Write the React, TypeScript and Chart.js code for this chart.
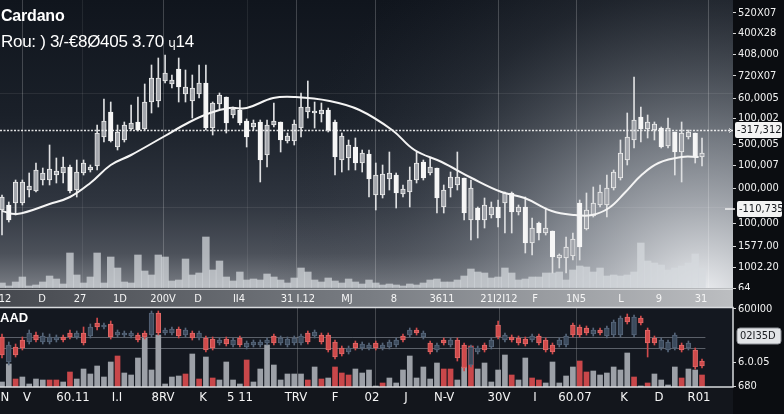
import React, { useEffect, useRef } from 'react';
import { Chart, registerables } from 'chart.js';

Chart.register(...registerables);

const FONT = "'Liberation Sans Narrow','DejaVu Sans Condensed','Liberation Sans',Arial,sans-serif";

// ---------- main panel (price) ----------
const mainOpen = [91,68,106,106,102,118,115,119,117,121,97,116,125,121,155,167,147,156,163,165,158,186,210,210,215,208,201,201,200,205,160,185,193,165,179,165,151,165,128,163,167,148,152,164,181,181,177,178,158,131,152,143,125,135,109,113,114,115,95,99,108,125,110,121,90,98,111,111,75,100,68,83,81,70,95,76,81,45,60,55,60,31,33,41,49,41,78,85,96,100,116,135,151,168,159,166,164,141,160,136,155,156,131,135];
const mainHigh = [93,86,108,108,115,125,120,143,130,131,123,128,128,123,163,189,186,163,166,183,191,204,223,230,233,213,230,218,213,223,223,186,195,191,181,188,169,168,168,168,185,166,155,168,195,207,186,185,180,168,155,148,150,138,138,125,123,136,115,103,121,136,128,130,120,103,116,136,110,108,81,90,86,88,96,96,83,91,70,66,80,57,34,51,55,88,95,101,103,113,118,148,175,211,181,173,166,161,170,156,166,158,155,150];
const mainLow = [53,66,73,83,91,96,103,103,105,105,95,91,113,116,118,146,146,138,146,158,157,158,175,181,205,200,186,186,170,190,158,153,178,155,170,163,141,158,106,121,161,136,145,143,151,170,160,166,156,113,116,118,118,116,91,78,90,98,80,91,81,105,108,113,75,75,91,98,68,48,50,60,70,61,55,55,73,35,33,48,53,15,20,15,28,28,58,71,81,71,98,108,123,140,146,150,148,140,140,113,106,149,125,122];
const mainClose = [78,83,85,85,98,97,108,108,113,115,121,98,115,118,122,151,176,141,148,159,166,159,186,187,207,204,219,194,187,194,205,160,184,191,173,178,167,161,166,133,163,166,147,147,160,176,175,174,178,166,128,130,141,125,134,93,93,109,113,94,96,108,126,115,120,81,100,103,110,68,80,68,73,81,85,95,76,81,45,65,55,57,30,30,32,85,59,72,83,83,100,110,128,148,171,159,158,160,142,156,136,151,155,131];
const mainVolume = [5,2,6,11,2,3,6,12,9,4,35,13,5,11,35,5,31,20,6,5,33,17,13,33,31,7,8,29,13,15,51,18,27,11,7,16,8,9,8,14,11,8,5,10,20,16,8,6,10,7,5,9,6,4,8,5,3,4,3,2,4,3,5,8,9,6,6,8,12,19,16,15,10,11,20,15,8,9,11,11,15,15,16,8,18,22,21,16,20,12,13,12,13,16,45,27,25,23,18,20,22,25,34,20];

// moving-average line sample points (x = candle index)
const maX = [0,2.2,7,10,13,16,19,23.7,27.6,30.6,33.5,36,39.9,43.2,48.2,52.6,57.4,60.7,64.7,69.1,73.5,76.9,80.9,84.3,86.8,89.3,91.6,94.1,96.6,100,102.5];
const maY = [77,74,84,91,105,123,133,151,166,175,180,180,190,191,187,178,158,138,126,110,96,90,77,73,73,80,95,113,125,131,131];

const priceTickValues = [0,21,42,65,100,123,144,170,190,212,234,255,275];
const priceTickLabels = ['64','1002.20','1577.00','100,000','000,000','100,007','500,005','100,002','60,0005','720X07','408,000','400X28','520X07'];
const priceTagValues = [158,79];
const priceTagLabels = ['-317,312','-110,735'];

const topTickPos = [0.44,5.89,11.48,17.36,23.69,28.84,34.87,43.55,50.77,57.68,64.74,73.13,78.43,84.46,91.08,96.67,102.86];
const topTickLabels = ['12','D','27','1D','200V','D','II4','31 I.12','MJ','8','3611','21I2I12','F','1N5','L','9','31'];

const mainGridStrong = [2.94,23.69,43.26,54.89,72.98,84.46,103.88];
const mainGridFaint = [11.77,36.05];
const mainGridH = [195,81];

// ---------- lower panel ----------
const lowOpen = [50,25,40,47,45,52,45,45,47,50,54,50,54,51,64,60,63,52,52,51,52,54,52,74,54,54,58,52,54,49,49,48,44,48,42,49,40,42,42,44,51,44,42,44,44,54,51,52,52,45,39,35,44,39,39,44,39,40,42,51,52,57,50,44,37,47,42,47,42,22,35,42,40,62,47,50,49,48,47,51,47,42,42,42,62,60,59,53,57,51,52,52,70,52,69,57,49,39,37,39,42,39,37,26];
const lowClose = [32,42,32,39,54,47,51,50,50,47,50,54,44,60,60,62,50,55,54,54,47,50,74,54,57,58,51,57,49,54,37,39,47,43,47,42,44,45,45,47,44,49,48,49,51,45,55,45,37,30,33,39,39,43,42,39,42,45,47,47,57,54,54,35,42,44,47,29,19,40,39,37,47,50,52,47,44,43,51,44,37,35,47,51,52,52,54,57,54,59,65,69,65,70,64,44,44,47,45,52,37,44,20,21];
const lowHigh = [53,45,43,50,57,55,54,53,52,52,57,56,60,63,69,64,66,57,56,56,54,56,76,76,59,60,60,59,56,56,51,50,49,50,49,51,46,47,47,49,53,51,50,51,53,56,57,54,54,47,41,41,46,45,44,46,44,47,49,53,59,59,56,46,44,49,49,49,44,42,41,44,49,66,54,52,51,50,53,53,49,44,49,53,64,62,61,59,59,61,67,71,73,72,71,59,51,49,47,54,44,46,39,28];
const lowLow = [29,22,30,37,43,45,43,43,45,45,48,48,42,49,57,58,48,50,50,49,45,48,50,52,52,52,49,50,47,47,35,37,42,41,40,40,38,40,40,42,42,42,40,42,42,43,49,43,35,28,31,33,37,37,37,37,37,38,40,45,50,52,48,33,35,42,40,26,16,20,33,35,38,48,45,45,42,41,45,42,35,33,40,40,50,50,52,51,52,49,50,50,63,50,62,30,42,37,35,37,35,37,18,19];
const lowVolume = [5,23,8,10,3,8,7,7,7,5,15,8,18,13,21,10,25,31,14,12,29,49,17,52,3,10,11,13,33,8,30,9,7,25,7,3,27,5,18,42,22,7,13,13,13,7,20,8,9,20,14,12,18,14,17,1,4,9,4,17,31,9,20,8,24,18,18,7,20,41,18,24,5,17,32,12,7,29,9,7,4,25,4,11,20,26,15,16,12,14,20,17,34,10,1,4,13,7,2,20,9,18,17,12];
const lowVolumeSide = ['g','g','r','g','g','g','g','r','r','g','r','g','g','g','g','g','g','r','g','g','g','g','g','g','g','g','g','r','g','r','g','r','g','g','g','g','r','g','g','g','g','g','g','g','g','r','g','r','g','r','r','r','g','g','g','g','r','g','g','g','g','g','g','g','g','r','r','g','g','r','g','g','g','g','g','r','g','g','r','r','g','g','g','g','g','r','r','g','g','g','g','g','g','r','g','r','g','g','g','g','r','g','g','r'];

const lowTickValues = [1,25,78];
const lowTickLabels = ['680','6.0.05','600I00'];
const lowTagValue = 51;
const lowTagLabel = '02I35D';
const lowLines = [50,39];
const lowGridX = [43.4,54.89,73.13,84.46];

const bottomTickPos = [0.44,3.68,10.45,16.92,23.69,29.58,35.02,43.26,49.0,54.44,59.45,65.04,73.13,78.43,84.31,91.52,96.67,102.56];
const bottomTickLabels = ['N','V','60.11','I.I','8RV','K','5 11','TRV','F','02','J','N-V','30V','I','60.07','K','D','R01'];

const X_MIN = -0.294;
const X_MAX = 107.56;

function roundRect(ctx: CanvasRenderingContext2D, x: number, y: number, w: number, h: number, r: number) {
  ctx.beginPath();
  ctx.moveTo(x + r, y);
  ctx.lineTo(x + w - r, y);
  ctx.quadraticCurveTo(x + w, y, x + w, y + r);
  ctx.lineTo(x + w, y + h - r);
  ctx.quadraticCurveTo(x + w, y + h, x + w - r, y + h);
  ctx.lineTo(x + r, y + h);
  ctx.quadraticCurveTo(x, y + h, x, y + h - r);
  ctx.lineTo(x, y + r);
  ctx.quadraticCurveTo(x, y, x + r, y);
  ctx.closePath();
}

function plotBox(chart: any) {
  const { x, y } = chart.scales;
  return { left: x.left, right: x.right, top: y.top, bottom: y.bottom };
}

function drawXLabels(chart: any, pos: number[], labels: string[], size: number, dy: number) {
  const { ctx, scales } = chart;
  const { bottom } = plotBox(chart);
  ctx.save();
  ctx.fillStyle = '#f5f5f5';
  ctx.font = `${size}px ${FONT}`;
  ctx.textAlign = 'center';
  ctx.textBaseline = 'middle';
  pos.forEach((v, k) => {
    ctx.fillText(labels[k], scales.x.getPixelForValue(v), bottom + dy);
  });
  ctx.restore();
}

export default function App() {
  const topRef = useRef<HTMLCanvasElement | null>(null);
  const lowRef = useRef<HTMLCanvasElement | null>(null);

  useEffect(() => {
    const idx = mainOpen.map((_, i) => i);

    const topBg = {
      id: 'topBg',
      beforeDraw(chart: any) {
        const { ctx, width, height } = chart;
        const { left, right, top, bottom } = plotBox(chart);
        ctx.save();
        ctx.fillStyle = '#0b0d11';
        ctx.fillRect(0, 0, width, height);
        const g = ctx.createLinearGradient(0, top, 0, bottom);
        g.addColorStop(0, '#10151d');
        g.addColorStop(0.4, '#1a2029');
        g.addColorStop(0.7, '#2f353f');
        g.addColorStop(0.88, '#4c515a');
        g.addColorStop(1, '#7a7e85');
        ctx.fillStyle = g;
        ctx.fillRect(left, top, right - left, bottom - top);
        const r = ctx.createRadialGradient(right - 30, bottom + 10, 10, right - 30, bottom + 10, 440);
        r.addColorStop(0, 'rgba(235,237,240,0.95)');
        r.addColorStop(0.35, 'rgba(172,177,184,0.6)');
        r.addColorStop(0.7, 'rgba(90,96,105,0.2)');
        r.addColorStop(1, 'rgba(40,45,55,0)');
        ctx.fillStyle = r;
        ctx.fillRect(left, top, right - left, bottom - top);
        // x strip
        const s = ctx.createLinearGradient(left, 0, right, 0);
        s.addColorStop(0, '#46494f');
        s.addColorStop(0.5, '#787c82');
        s.addColorStop(1, '#bcbec1');
        ctx.fillStyle = s;
        ctx.fillRect(left, bottom, right - left, height - bottom);
        ctx.strokeStyle = 'rgba(235,236,238,0.6)';
        ctx.lineWidth = 1;
        ctx.beginPath();
        ctx.moveTo(left, bottom + 1.5);
        ctx.lineTo(right, bottom + 1.5);
        ctx.stroke();
        ctx.restore();
      },
      beforeDatasetsDraw(chart: any) {
        const { ctx, scales } = chart;
        const { left, right, top, bottom } = plotBox(chart);
        ctx.save();
        ctx.lineWidth = 1;
        ctx.strokeStyle = 'rgba(255,255,255,0.2)';
        mainGridStrong.forEach((v) => {
          const x = Math.round(scales.x.getPixelForValue(v)) + 0.5;
          ctx.beginPath(); ctx.moveTo(x, top); ctx.lineTo(x, bottom); ctx.stroke();
        });
        ctx.strokeStyle = 'rgba(255,255,255,0.08)';
        mainGridFaint.forEach((v) => {
          const x = Math.round(scales.x.getPixelForValue(v)) + 0.5;
          ctx.beginPath(); ctx.moveTo(x, top); ctx.lineTo(x, bottom); ctx.stroke();
        });
        mainGridH.forEach((v) => {
          const y = Math.round(scales.y.getPixelForValue(v)) + 0.5;
          ctx.beginPath(); ctx.moveTo(left, y); ctx.lineTo(right, y); ctx.stroke();
        });
        ctx.restore();
      },
      afterDatasetsDraw(chart: any) {
        const { ctx, scales, width } = chart;
        const { left, right } = plotBox(chart);
        ctx.save();
        const yd = Math.round(scales.y.getPixelForValue(priceTagValues[0])) + 0.5;
        ctx.strokeStyle = 'rgba(245,245,245,0.9)';
        ctx.setLineDash([2, 1.5]);
        ctx.lineWidth = 1.5;
        ctx.beginPath(); ctx.moveTo(left, yd); ctx.lineTo(right, yd); ctx.stroke();
        ctx.setLineDash([]);
        ctx.lineWidth = 1;
        ctx.beginPath(); ctx.moveTo(right - 4, yd - 2); ctx.lineTo(right - 1, yd); ctx.lineTo(right - 4, yd + 2); ctx.stroke();
        const y2 = scales.y.getPixelForValue(priceTagValues[1]);
        ctx.strokeStyle = '#f0f0f0';
        ctx.lineWidth = 1.5;
        ctx.beginPath(); ctx.moveTo(right - 8, y2); ctx.lineTo(right + 2, y2); ctx.stroke();
        priceTagValues.forEach((v, k) => {
          const y = scales.y.getPixelForValue(v);
          const x0 = right + 2 + k * 2;
          roundRect(ctx, x0, y - 8, width - 2 - x0, 16, 2);
          ctx.fillStyle = '#f3f3f3';
          ctx.fill();
          ctx.fillStyle = '#15181d';
          ctx.font = `11px ${FONT}`;
          ctx.textBaseline = 'middle';
          ctx.textAlign = 'left';
          ctx.fillText(priceTagLabels[k], x0 + 2, y + 0.5);
        });
        ctx.restore();
      },
      afterDraw(chart: any) {
        drawXLabels(chart, topTickPos, topTickLabels, 11, 11);
      },
    };

    const isUp = (i: number) => mainClose[i] > mainOpen[i];

    const topChart = new Chart(topRef.current as HTMLCanvasElement, {
      type: 'bar',
      data: {
        datasets: [
          {
            type: 'bar',
            label: 'volume',
            data: idx.map((i) => ({ x: i, y: mainVolume[i] })),
            backgroundColor: 'rgba(214,217,222,0.72)',
            barThickness: 6.8,
            grouped: false,
            order: 4,
          },
          {
            type: 'bar',
            label: 'wick',
            data: idx.map((i) => ({ x: i, y: [mainLow[i], mainHigh[i]] })),
            backgroundColor: '#dedfe1',
            barThickness: 1,
            grouped: false,
            order: 3,
          },
          {
            type: 'bar',
            label: 'body',
            data: idx.map((i) => ({ x: i, y: [Math.min(mainOpen[i], mainClose[i]), Math.max(mainOpen[i], mainClose[i])] })),
            backgroundColor: idx.map((i) => (isUp(i) ? '#f6f6f6' : '#a3a6ac')),
            borderColor: idx.map((i) => (isUp(i) ? '#f6f6f6' : '#ececec')),
            borderWidth: 1,
            borderSkipped: false,
            barThickness: 4.6,
            grouped: false,
            order: 2,
          },
          {
            type: 'line',
            label: 'ma',
            data: maX.map((x, k) => ({ x, y: maY[k] })),
            borderColor: '#f4f4f4',
            borderWidth: 2,
            pointRadius: 0,
            tension: 0.4,
            order: 1,
          },
        ] as any,
      },
      options: {
        animation: false,
        responsive: false,
        devicePixelRatio: 1,
        layout: { padding: 0 },
        plugins: { legend: { display: false }, tooltip: { enabled: false }, title: { display: false } },
        scales: {
          x: {
            type: 'linear',
            min: X_MIN,
            max: X_MAX,
            offset: false,
            grid: { display: false },
            border: { display: false },
            ticks: { display: false },
            afterFit: (s: any) => { s.height = 19; s.paddingLeft = 0; s.paddingRight = 0; },
          },
          y: {
            type: 'linear',
            position: 'right',
            min: 0,
            max: 288,
            afterBuildTicks: (s: any) => { s.ticks = priceTickValues.map((v) => ({ value: v })); },
            afterFit: (s: any) => { s.width = 51; s.paddingTop = 0; s.paddingBottom = 0; },
            grid: { drawOnChartArea: false, drawTicks: true, tickLength: 3, color: '#d6d6d6' },
            border: { display: false },
            ticks: {
              autoSkip: false,
              padding: 2,
              color: '#f2f2f2',
              font: { size: 11, family: FONT },
              callback: (_v: any, i: number) => priceTickLabels[i],
            },
          },
        },
      } as any,
      plugins: [topBg],
    });

    // ---------- lower chart ----------
    const lowBg = {
      id: 'lowBg',
      beforeDraw(chart: any) {
        const { ctx, width, height } = chart;
        const { left, right, top, bottom } = plotBox(chart);
        ctx.save();
        ctx.fillStyle = '#0b0d11';
        ctx.fillRect(right, 0, width - right, height);
        ctx.fillRect(0, top - 1, width, height - top + 1);
        ctx.fillStyle = '#141820';
        ctx.fillRect(left, top, right - left, bottom - top);
        ctx.fillStyle = '#13161c';
        ctx.fillRect(left, bottom, right - left, height - bottom);
        ctx.restore();
      },
      beforeDatasetsDraw(chart: any) {
        const { ctx, scales } = chart;
        const { left, top, bottom } = plotBox(chart);
        ctx.save();
        ctx.lineWidth = 1;
        ctx.strokeStyle = 'rgba(255,255,255,0.2)';
        lowGridX.forEach((v) => {
          const x = Math.round(scales.x.getPixelForValue(v)) + 0.5;
          ctx.beginPath(); ctx.moveTo(x, top); ctx.lineTo(x, bottom); ctx.stroke();
        });
        ctx.strokeStyle = 'rgba(150,156,165,0.55)';
        const xe = scales.x.getPixelForValue(103.5);
        lowLines.forEach((v) => {
          const y = Math.round(scales.y.getPixelForValue(v)) + 0.5;
          ctx.beginPath(); ctx.moveTo(left, y); ctx.lineTo(xe, y); ctx.stroke();
        });
        ctx.restore();
      },
      afterDatasetsDraw(chart: any) {
        const { ctx, scales, width } = chart;
        const { left, right, top, bottom } = plotBox(chart);
        ctx.save();
        ctx.strokeStyle = '#d8dadd';
        ctx.lineWidth = 1.5;
        ctx.beginPath();
        ctx.moveTo(left, top - 0.5);
        ctx.lineTo(right, top - 0.5);
        ctx.lineTo(right, bottom);
        ctx.lineTo(left, bottom);
        ctx.stroke();
        const y = scales.y.getPixelForValue(lowTagValue);
        const x0 = right + 4;
        roundRect(ctx, x0, y - 8, width - 3 - x0, 16, 3);
        ctx.fillStyle = '#e2e4e7';
        ctx.fill();
        ctx.strokeStyle = '#8d9096';
        ctx.lineWidth = 1;
        ctx.stroke();
        ctx.fillStyle = '#1a1c20';
        ctx.font = `11px ${FONT}`;
        ctx.textBaseline = 'middle';
        ctx.textAlign = 'left';
        ctx.fillText(lowTagLabel, x0 + 3, y + 0.5);
        ctx.restore();
      },
      afterDraw(chart: any) {
        drawXLabels(chart, bottomTickPos, bottomTickLabels, 13, 11);
      },
    };

    const lowDown = (i: number) => lowClose[i] < lowOpen[i];
    const RED = '#d04a4b';
    const DARK = '#3c4b5d';

    const lowChart = new Chart(lowRef.current as HTMLCanvasElement, {
      type: 'bar',
      data: {
        datasets: [
          {
            type: 'bar',
            label: 'volume',
            data: idx.map((i) => ({ x: i, y: lowVolume[i] })),
            backgroundColor: idx.map((i) => (lowVolumeSide[i] === 'r' ? '#c9474a' : '#9ca0a7')),
            barThickness: 5,
            grouped: false,
            order: 4,
          },
          {
            type: 'bar',
            label: 'wick',
            data: idx.map((i) => ({ x: i, y: [lowLow[i], lowHigh[i]] })),
            backgroundColor: idx.map((i) => (lowDown(i) ? RED : '#56667a')),
            barThickness: 1,
            grouped: false,
            order: 3,
          },
          {
            type: 'bar',
            label: 'body',
            data: idx.map((i) => ({ x: i, y: [Math.min(lowOpen[i], lowClose[i]), Math.max(lowOpen[i], lowClose[i])] })),
            backgroundColor: idx.map((i) => (lowDown(i) ? RED : DARK)),
            borderColor: idx.map((i) => (lowDown(i) ? '#e06a68' : '#566579')),
            borderWidth: 1,
            borderSkipped: false,
            barThickness: 4.8,
            grouped: false,
            order: 2,
          },
        ] as any,
      },
      options: {
        animation: false,
        responsive: false,
        devicePixelRatio: 1,
        layout: { padding: { top: 18, left: 0, right: 0, bottom: 0 } },
        plugins: { legend: { display: false }, tooltip: { enabled: false } },
        scales: {
          x: {
            type: 'linear',
            min: X_MIN,
            max: X_MAX,
            offset: false,
            grid: { display: false },
            border: { display: false },
            ticks: { display: false },
            afterFit: (s: any) => { s.height = 27; s.paddingLeft = 0; s.paddingRight = 0; },
          },
          y: {
            type: 'linear',
            position: 'right',
            min: 0,
            max: 79,
            afterBuildTicks: (s: any) => { s.ticks = lowTickValues.map((v) => ({ value: v })); },
            afterFit: (s: any) => { s.width = 51; s.paddingTop = 0; s.paddingBottom = 0; },
            grid: { drawOnChartArea: false, drawTicks: true, tickLength: 3, color: '#d6d6d6' },
            border: { display: false },
            ticks: {
              autoSkip: false,
              padding: 2,
              color: '#f2f2f2',
              font: { size: 11, family: FONT },
              callback: (_v: any, i: number) => lowTickLabels[i],
            },
          },
        },
      } as any,
      plugins: [lowBg],
    });

    return () => {
      topChart.destroy();
      lowChart.destroy();
    };
  }, []);

  return (
    <div style={{ position: 'fixed', left: 0, top: 0, width: 784, height: 414, background: '#0b0d11', overflow: 'hidden' }}>
      <canvas ref={topRef} width={784} height={307} style={{ position: 'absolute', left: 0, top: 0, width: 784, height: 307 }} />
      <canvas ref={lowRef} width={784} height={124} style={{ position: 'absolute', left: 0, top: 290, width: 784, height: 124 }} />
      <div style={{ position: 'absolute', left: 1, top: 7, color: '#ffffff', font: "bold 16px 'Liberation Sans', Arial, sans-serif", letterSpacing: -0.2, whiteSpace: 'nowrap' }}>Cardano</div>
      <div style={{ position: 'absolute', left: 1, top: 32, color: '#ffffff', font: "17px 'Liberation Sans', Arial, sans-serif", letterSpacing: -0.3, whiteSpace: 'nowrap' }}>
        Rou: ) 3/-€8Ø405 3.70 <span style={{ fontSize: 12, fontFamily: "'DejaVu Sans', sans-serif" }}>ɥ</span>14
      </div>
      <div style={{ position: 'absolute', left: 0, top: 310, color: '#ffffff', font: "bold 13px 'Liberation Sans', Arial, sans-serif", whiteSpace: 'nowrap' }}>AAD</div>
    </div>
  );
}
